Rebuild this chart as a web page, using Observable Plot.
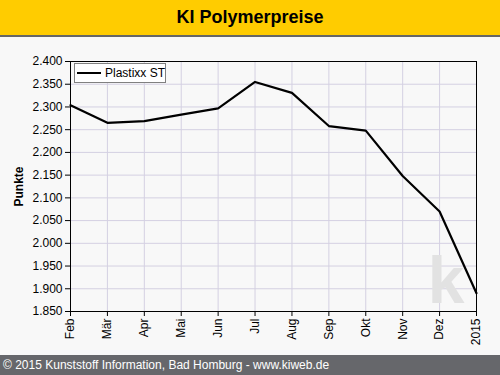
<!DOCTYPE html>
<html>
<head>
<meta charset="utf-8">
<script src="https://cdn.jsdelivr.net/npm/d3@7"></script>
<script src="https://cdn.jsdelivr.net/npm/@observablehq/plot@0.6"></script>
<style>
  html, body { margin: 0; padding: 0; }
  body { width: 500px; height: 375px; background: #f8f8f8; font-family: "Liberation Sans", Arial, sans-serif; position: relative; overflow: hidden; }
  #title { height: 35px; background: #ffcc00; border-bottom: 2px solid #666666; text-align: center; font-weight: bold; font-size: 18px; line-height: 35px; color: #000; }
  #chart { position: relative; height: 318px; }
  #chart svg { display: block; background: transparent; }
  #footer { position: absolute; left: 0; top: 355px; width: 500px; height: 20px; background: #66676b; color: #fff; font-size: 12px; line-height: 20px; padding-left: 3px; box-sizing: border-box; }
  #legend { position: absolute; left: 74px; top: 26px; width: 90px; height: 18px; background: #fff; border: 1px solid #808080; font-size: 12px; }
  #legend .sw { position: absolute; left: 2px; top: 8px; width: 24px; height: 2px; background: #000; }
  #legend .lb { position: absolute; left: 30px; top: 1px; line-height: 16px; color: #000; }
  g[aria-label="y-axis label"] text { font-weight: bold; }
</style>
</head>
<body>
<div id="title">KI Polymerpreise</div>
<div id="chart"></div>
<div id="footer">© 2015 Kunststoff Information, Bad Homburg - www.kiweb.de</div>
<script>
const months = ["Feb", "Mär", "Apr", "Mai", "Jun", "Jul", "Aug", "Sep", "Okt", "Nov", "Dez", "2015"];
const values = [2.304, 2.265, 2.269, 2.283, 2.297, 2.355, 2.331, 2.258, 2.248, 2.148, 2.070, 1.890];
const yTicks = [1.85, 1.90, 1.95, 2.00, 2.05, 2.10, 2.15, 2.20, 2.25, 2.30, 2.35, 2.40];
const seriesName = "Plastixx ST";
const yLabel = "Punkte";

const data = months.map((m, i) => ({month: m, value: values[i]}));

const chart = Plot.plot({
  width: 500,
  height: 318,
  marginLeft: 70,
  marginRight: 24,
  marginTop: 24,
  marginBottom: 44,
  style: {fontFamily: '"Liberation Sans", Arial, sans-serif', fontSize: "12px", color: "#000", background: "transparent"},
  x: {type: "point", domain: months, padding: 0, round: false, inset: 0},
  y: {domain: [1.85, 2.4]},
  marks: [
    Plot.gridX(months, {stroke: "#d4d0e2", strokeOpacity: 1}),
    Plot.gridY(yTicks, {stroke: "#d4d0e2", strokeOpacity: 1}),
    Plot.text(["k"], {frameAnchor: "bottom-right", dx: -12, dy: -9, fontSize: 66, fontWeight: "bold", fill: "#e2e2e2", textAnchor: "end", lineAnchor: "bottom"}),
    Plot.line(data, {x: "month", y: "value", stroke: "#000", strokeWidth: 2.2}),
    Plot.frame({stroke: "#000"}),
    Plot.axisY(yTicks, {tickFormat: d => d.toFixed(3), tickSize: 5, tickPadding: 3, label: yLabel, labelAnchor: "center", labelArrow: "none", labelOffset: 56, fontSize: 12}),
    Plot.axisX(months, {tickRotate: -90, tickSize: 5, tickPadding: 2, label: null, fontSize: 12})
  ]
});
document.getElementById("chart").appendChild(chart);

const legend = document.createElement("div");
legend.id = "legend";
legend.innerHTML = '<div class="sw"></div><div class="lb"></div>';
legend.querySelector(".lb").textContent = seriesName;
document.getElementById("chart").appendChild(legend);
</script>
</body>
</html>
